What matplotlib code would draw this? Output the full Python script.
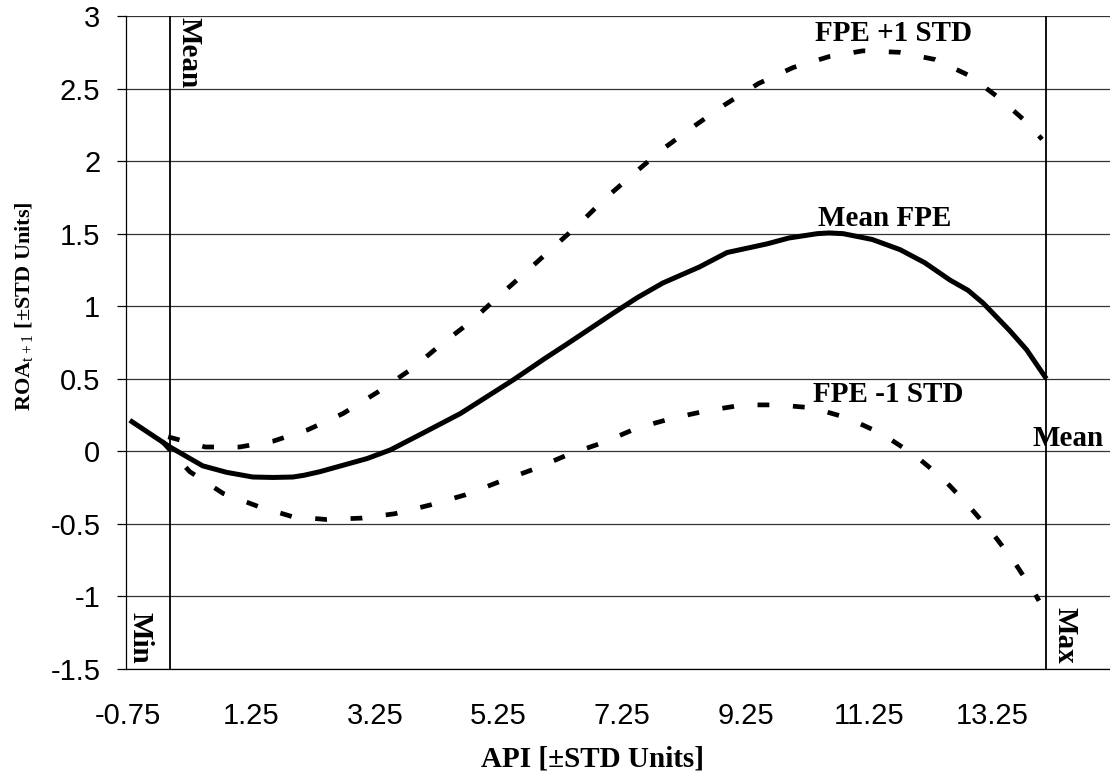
import matplotlib
matplotlib.use('Agg')
import matplotlib.pyplot as plt

plt.rcParams['mathtext.fontset'] = 'custom'
plt.rcParams['mathtext.rm'] = 'Liberation Serif'
plt.rcParams['mathtext.bf'] = 'Liberation Serif:bold'

# data
mean_x = [-0.72, -0.07, 0.46, 0.85, 1.27, 1.6, 1.92, 2.1, 2.36, 3.12, 3.5, 4.0, 4.63, 5.0, 5.48,
          6.0, 6.36, 7.10, 7.5, 7.91, 8.5, 8.95, 9.60, 9.95, 10.41, 10.6, 10.83, 11.3, 11.75,
          12.15, 12.56, 12.85, 13.1, 13.53, 13.8, 14.12]
mean_y = [0.214, 0.03, -0.10, -0.145, -0.177, -0.18, -0.177, -0.165, -0.14, -0.05, 0.01, 0.12,
          0.26, 0.36, 0.49, 0.64, 0.74, 0.95, 1.06, 1.16, 1.27, 1.37, 1.43, 1.47, 1.50, 1.505,
          1.50, 1.46, 1.39, 1.30, 1.18, 1.11, 1.02, 0.83, 0.70, 0.5]

plus_x = [-0.1, 0.50, 1.06, 1.60, 2.17, 2.73, 3.30, 3.85, 4.30, 4.79, 5.23, 5.68, 6.12, 6.54, 6.97,
          7.43, 7.90, 8.38, 8.90, 9.46, 10.02, 10.6, 11.15, 11.74, 12.32, 12.87, 13.37, 13.82, 14.05]
plus_y = [0.10, 0.03, 0.03, 0.07, 0.15, 0.26, 0.41, 0.57, 0.73, 0.89, 1.06, 1.23, 1.40, 1.56, 1.74,
          1.91, 2.08, 2.23, 2.385, 2.535, 2.645, 2.72, 2.76, 2.75, 2.70, 2.59, 2.43, 2.26, 2.15]

minus_x = [-0.2, 0.25, 0.79, 1.36, 1.91, 2.47, 3.04, 3.57, 4.14, 4.71, 5.26, 5.84, 6.39, 6.94, 7.49,
           8.08, 8.63, 9.21, 9.76, 10.33, 10.9, 11.46, 12.0, 12.45, 12.85, 13.24, 13.58, 13.92, 14.0]
minus_y = [0.07, -0.14, -0.29, -0.38, -0.45, -0.47, -0.46, -0.43, -0.37, -0.30, -0.21, -0.12, -0.02,
           0.06, 0.16, 0.23, 0.28, 0.32, 0.32, 0.30, 0.23, 0.12, -0.03, -0.19, -0.37, -0.56, -0.75,
           -0.97, -1.03]

vline_mean = -0.07
vline_max = 14.12

x_ticks = [-0.75, 1.25, 3.25, 5.25, 7.25, 9.25, 11.25, 13.25]
x_tick_labels = ['-0.75', '1.25', '3.25', '5.25', '7.25', '9.25', '11.25', '13.25']
y_ticks = [-1.5, -1, -0.5, 0, 0.5, 1, 1.5, 2, 2.5, 3]
y_tick_labels = ['-1.5', '-1', '-0.5', '0', '0.5', '1', '1.5', '2', '2.5', '3']

serif_bold = dict(family='Liberation Serif', fontweight='bold', fontsize=21)

fig = plt.figure(figsize=(11.1, 7.77), dpi=100)
ax = fig.add_axes([126 / 1110, 108 / 777, 984 / 1110, 653 / 777])

ax.set_xlim(-0.782, 15.15)
ax.set_ylim(-1.5, 3)

ax.yaxis.grid(True, color='#333333', linewidth=0.9, zorder=0)
ax.set_axisbelow(True)

ax.axvline(vline_mean, color='black', linewidth=1.3, zorder=2)
ax.axvline(vline_max, color='black', linewidth=1.3, zorder=2)

ax.plot(plus_x, plus_y, color='black', linewidth=3.4, linestyle=(0, (2.5, 5.0)),
        dash_capstyle='butt', zorder=3)
ax.plot(minus_x, minus_y, color='black', linewidth=3.4, linestyle=(0, (2.5, 5.0)),
        dash_capstyle='butt', zorder=3)
ax.plot(mean_x, mean_y, color='black', linewidth=3.6, solid_capstyle='butt',
        solid_joinstyle='round', zorder=3)

ax.set_xticks(x_ticks)
ax.set_xticklabels(x_tick_labels, family='Liberation Sans', fontsize=21)
ax.set_yticks(y_ticks)
ax.set_yticklabels(y_tick_labels, family='Liberation Sans', fontsize=21)
ax.tick_params(axis='x', length=0, pad=24)
ax.tick_params(axis='y', length=6.5, width=0.9, direction='out', pad=12)

for s in ['top', 'right']:
    ax.spines[s].set_visible(False)
ax.spines['left'].set_linewidth(0.9)
ax.spines['bottom'].set_linewidth(0.9)

# curve labels
ax.text(11.65, 2.876, 'FPE +1 STD', ha='center', va='center', **serif_bold)
ax.text(11.51, 1.607, 'Mean FPE', ha='center', va='center', **serif_bold)
ax.text(11.56, 0.393, 'FPE -1 STD', ha='center', va='center', **serif_bold)
ax.text(14.47, 0.09, 'Mean', ha='center', va='center', **serif_bold)
ax.text(14.42, -1.27, 'Max', ha='center', va='center', rotation=270, **serif_bold)
ax.text(-0.556, -1.283, 'Min', ha='center', va='center', rotation=270, **serif_bold)
ax.text(0.238, 2.75, 'Mean', ha='center', va='center', rotation=270, **serif_bold)

ax.set_xlabel('API [±STD Units]', **serif_bold)
ax.xaxis.set_label_coords(0.4736, -0.138)
ax.xaxis.label.set_va('center')

ax.set_ylabel(r'ROA$_{\mathrm{t+1}}$ [±STD Units]', family='Liberation Serif',
              fontweight='bold', fontsize=16)
ax.yaxis.set_label_coords(-0.1026, 0.556)
ax.yaxis.label.set_va('center')

plt.savefig('out.png', dpi=100)
